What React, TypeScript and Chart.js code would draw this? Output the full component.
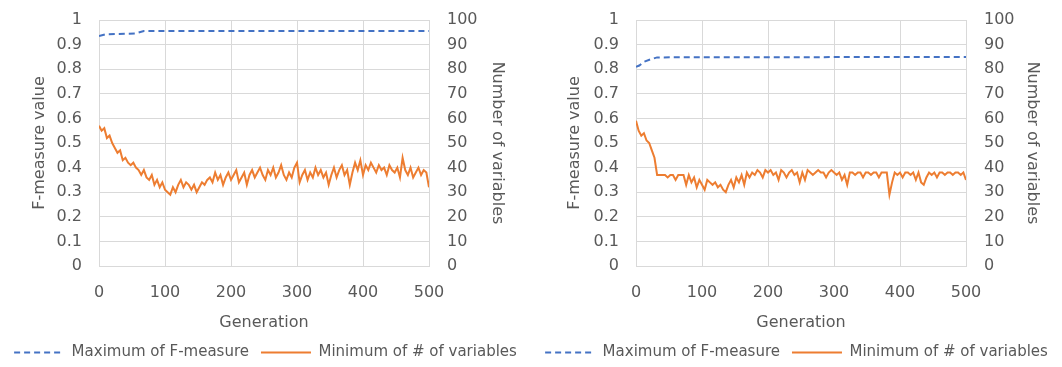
import React, { useEffect, useRef } from "react";
import { Chart, registerables } from "chart.js";

Chart.register(...registerables);

// ---------- data ----------
const generations = [
  0, 4, 8, 12, 16, 20, 24, 28, 32, 36, 40, 44, 48,
  52, 56, 60, 64, 68, 72, 76, 80, 84, 88, 92, 96, 100,
  104, 108, 112, 116, 120, 124, 128, 132, 136, 140, 144, 148,
  152, 156, 160, 164, 168, 172, 176, 180, 184, 188, 192, 196,
  200, 204, 208, 212, 216, 220, 224, 228, 232, 236, 240, 244,
  248, 252, 256, 260, 264, 268, 272, 276, 280, 284, 288, 292,
  296, 300, 304, 308, 312, 316, 320, 324, 328, 332, 336, 340,
  344, 348, 352, 356, 360, 364, 368, 372, 376, 380, 384, 388,
  392, 396, 400, 404, 408, 412, 416, 420, 424, 428, 432, 436,
  440, 444, 448, 452, 456, 460, 464, 468, 472, 476, 480, 484,
  488, 492, 496, 500,
];

// Left panel: minimum number of variables
const leftMinVars = [
  57, 55, 56, 52, 53, 50, 48, 46, 47, 43, 44, 42, 41,
  42, 40, 39, 37, 39, 36, 35, 37, 33, 35, 32, 34, 31,
  30, 29, 32, 30, 33, 35, 32, 34, 33, 31, 33, 30,
  32, 34, 33, 35, 36, 34, 38, 35, 37, 33, 36, 38,
  35, 37, 39, 34, 36, 38, 33, 37, 39, 36, 38, 40,
  37, 35, 39, 37, 40, 36, 38, 41, 37, 35, 38, 36,
  40, 42, 34, 37, 39, 35, 38, 36, 40, 37, 39, 36,
  38, 33, 37, 40, 36, 39, 41, 37, 39, 33, 38, 42,
  39, 43, 37, 41, 39, 42, 40, 38, 41, 39, 40, 37,
  41, 39, 38, 40, 36, 44, 39, 37, 40, 36, 38, 40,
  37, 39, 38, 32,
];

// Right panel: minimum number of variables
const rightMinVars = [
  59, 55, 53, 54, 51, 50, 47, 44, 37, 37, 37, 37, 36,
  37, 37, 35, 37, 37, 37, 33, 37, 34, 36, 32, 35, 33,
  31, 35, 34, 33, 34, 32, 33, 31, 30, 33, 35, 32,
  36, 34, 37, 33, 38, 36, 38, 37, 39, 38, 36, 39,
  38, 39, 37, 38, 35, 39, 38, 36, 38, 39, 37, 38,
  34, 38, 35, 39, 38, 37, 38, 39, 38, 38, 36, 38,
  39, 38, 37, 38, 35, 37, 33, 38, 38, 37, 38, 38,
  36, 38, 38, 37, 38, 38, 36, 38, 38, 38, 29, 34,
  38, 37, 38, 36, 38, 38, 37, 38, 35, 38, 34, 33,
  36, 38, 37, 38, 36, 38, 38, 37, 38, 38, 37, 38,
  38, 37, 38, 35,
];

// Maximum of F-measure
const leftMaxGen = [0, 10, 55, 68, 500];
const leftMaxF = [0.935, 0.942, 0.945, 0.955, 0.955];
const rightMaxGen = [0, 5, 12, 22, 32, 500];
const rightMaxF = [0.81, 0.815, 0.83, 0.84, 0.848, 0.85];

const genTicks = [0, 100, 200, 300, 400, 500];
const seriesNames = ["Maximum of F-measure", "Minimum of # of variables"];
const axisTitles = { x: "Generation", left: "F-measure value", right: "Number of variables" };

// ---------- styles ----------
const BLUE = "#4472C4";
const ORANGE = "#ED7D31";
const GRID = "#D9D9D9";
const TEXT = "#595959";
const FONT = "'DejaVu Sans', sans-serif";

type PanelProps = {
  left: number;
  width: number;
  plotLeft: number;
  plotRight: number;
  maxGen: number[];
  maxF: number[];
  minVars: number[];
  leftTitlePad: number;
  rightTitlePad: number;
};

function Panel(p: PanelProps) {
  const ref = useRef<HTMLCanvasElement | null>(null);
  useEffect(() => {
    if (!ref.current) return;
    const chart = new Chart(ref.current, {
      type: "line",
      data: {
        datasets: [
          {
            label: seriesNames[0],
            data: p.maxGen.map((g, i) => ({ x: g, y: p.maxF[i] })),
            borderColor: BLUE,
            backgroundColor: BLUE,
            borderWidth: 2,
            borderDash: [6, 4],
            pointRadius: 0,
            pointStyle: "line",
            yAxisID: "yF",
            tension: 0,
          },
          {
            label: seriesNames[1],
            data: generations.map((g, i) => ({ x: g, y: p.minVars[i] })),
            borderColor: ORANGE,
            backgroundColor: ORANGE,
            borderWidth: 2,
            pointRadius: 0,
            pointStyle: "line",
            yAxisID: "yN",
            tension: 0,
          },
        ],
      },
      options: {
        responsive: false,
        animation: false,
        devicePixelRatio: 1,
        layout: { padding: { top: 20, left: 0, right: 0, bottom: -3 } },
        plugins: {
          tooltip: { enabled: false },
          legend: {
            position: "bottom",
            labels: {
              usePointStyle: true,
              pointStyle: "line",
              pointStyleWidth: 50,
              padding: 12,
              color: TEXT,
              font: { family: FONT, size: 15 },
              generateLabels: (c: any) => {
                const items = Chart.defaults.plugins.legend.labels.generateLabels(c);
                return items.map((it: any, i: number) => {
                  const ds: any = c.data.datasets[i];
                  return {
                    ...it,
                    lineDash: ds.borderDash || [],
                    lineWidth: 2,
                    strokeStyle: ds.borderColor,
                    fillStyle: ds.borderColor,
                    pointStyle: "line",
                  };
                });
              },
            },
          },
        },
        scales: {
          x: {
            type: "linear",
            min: 0,
            max: 500,
            afterBuildTicks: (s: any) => {
              s.ticks = genTicks.map((v) => ({ value: v }));
            },
            afterFit: (s: any) => {
              s.height = 67;
            },
            ticks: {
              color: TEXT,
              font: { family: FONT, size: 16 },
              padding: 17,
              maxRotation: 0,
              autoSkip: false,
            },
            grid: { color: GRID, drawTicks: false },
            border: { display: true, color: GRID },
            title: {
              display: true,
              text: axisTitles.x,
              color: TEXT,
              font: { family: FONT, size: 16 },
              padding: { top: 0, bottom: 1 },
            },
          },
          yF: {
            type: "linear",
            position: "left",
            min: 0,
            max: 1,
            afterFit: (s: any) => {
              s.width = p.plotLeft;
              s.paddingTop = 0;
              s.paddingBottom = 0;
            },
            ticks: {
              stepSize: 0.1,
              color: TEXT,
              font: { family: FONT, size: 16 },
              padding: 17,
              callback: (v: any) => String(Number(Number(v).toFixed(1))),
            },
            grid: { color: GRID, drawTicks: false },
            border: { display: true, color: GRID },
            title: {
              display: true,
              text: axisTitles.left,
              color: TEXT,
              font: { family: FONT, size: 16 },
              padding: { top: p.leftTitlePad, bottom: 0 },
            },
          },
          yN: {
            type: "linear",
            position: "right",
            min: 0,
            max: 100,
            afterFit: (s: any) => {
              s.width = p.width - p.plotRight;
              s.paddingTop = 0;
              s.paddingBottom = 0;
            },
            ticks: {
              stepSize: 10,
              color: TEXT,
              font: { family: FONT, size: 16 },
              padding: 18,
            },
            grid: { drawOnChartArea: false, drawTicks: false },
            border: { display: true, color: GRID },
            title: {
              display: true,
              text: axisTitles.right,
              color: TEXT,
              font: { family: FONT, size: 16 },
              padding: { top: p.rightTitlePad, bottom: 0 },
            },
          },
        },
      },
    } as any);
    return () => chart.destroy();
  }, []);
  return (
    <div style={{ position: "absolute", left: p.left, top: 0, width: p.width, height: 367 }}>
      <canvas ref={ref} width={p.width} height={367} style={{ width: p.width, height: 367, display: "block" }} />
    </div>
  );
}

export default function App() {
  return (
    <div style={{ position: "absolute", left: 0, top: 0, width: 1062, height: 367, background: "#fff", overflow: "hidden" }}>
      <Panel left={0} width={531} plotLeft={99} plotRight={429} maxGen={leftMaxGen} maxF={leftMaxF} minVars={leftMinVars} leftTitlePad={30} rightTitlePad={24} />
      <Panel left={531} width={531} plotLeft={105} plotRight={435} maxGen={rightMaxGen} maxF={rightMaxF} minVars={rightMinVars} leftTitlePad={34} rightTitlePad={20} />
    </div>
  );
}
